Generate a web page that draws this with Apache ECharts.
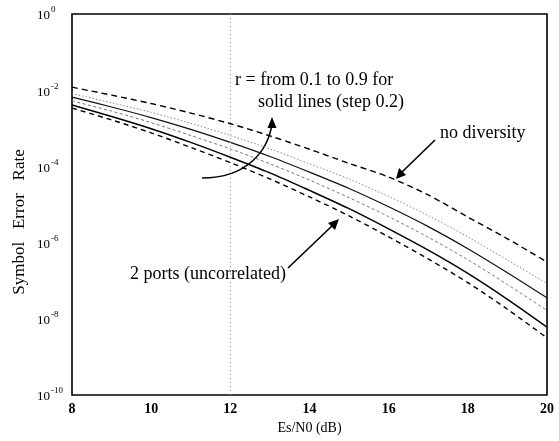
<!DOCTYPE html>
<html>
<head>
<meta charset="utf-8">
<script src="https://cdn.jsdelivr.net/npm/echarts@6/dist/echarts.min.js"></script>
<style>html,body{margin:0;padding:0;background:#fff}#c{width:559px;height:441px}</style>
</head>
<body>
<div id="c"></div>
<script>
const esn0 = [8, 9, 10, 11, 12, 13, 14, 15, 16, 17, 18, 19, 20];
const xTicks = [8, 10, 12, 14, 16, 18, 20];
const yTicks = [1, 1e-2, 1e-4, 1e-6, 1e-8, 1e-10];
const noDiversity = [1.20e-2, 7.41e-3, 4.47e-3, 2.51e-3, 1.32e-3, 6.31e-4, 2.82e-4, 1.20e-4, 5.25e-5, 1.78e-5, 4.68e-6, 1.26e-6, 3.09e-7];
const rLine1 = [8.13e-3, 4.68e-3, 2.63e-3, 1.35e-3, 6.46e-4, 2.88e-4, 1.17e-4, 4.68e-5, 1.62e-5, 5.13e-6, 1.41e-6, 3.47e-7, 8.51e-8];
const rLine2 = [6.61e-3, 3.63e-3, 1.91e-3, 9.33e-4, 4.27e-4, 1.82e-4, 7.08e-5, 2.63e-5, 8.71e-6, 2.63e-6, 6.92e-7, 1.62e-7, 3.55e-8];
const rLine3 = [5.25e-3, 2.82e-3, 1.41e-3, 6.46e-4, 2.88e-4, 1.17e-4, 4.37e-5, 1.51e-5, 4.79e-6, 1.38e-6, 3.55e-7, 7.94e-8, 1.66e-8];
const rLine4 = [4.07e-3, 2.04e-3, 9.77e-4, 4.27e-4, 1.74e-4, 6.76e-5, 2.34e-5, 7.76e-6, 2.29e-6, 6.31e-7, 1.55e-7, 3.24e-8, 6.03e-9];
const twoPorts = [3.39e-3, 1.66e-3, 7.59e-4, 3.16e-4, 1.26e-4, 4.68e-5, 1.58e-5, 5.01e-6, 1.41e-6, 3.72e-7, 8.91e-8, 1.78e-8, 3.16e-9];

const serif = '"Liberation Serif", "DejaVu Serif", serif';
const pair = arr => esn0.map((x, i) => [x, arr[i]]);

function mkSeries(name, arr, color, width, type) {
  return {
    name, type: 'line', data: pair(arr), smooth: 0.3, symbol: 'none',
    lineStyle: { color, width, type }, z: 3
  };
}

const chart = echarts.init(document.getElementById('c'), null, { renderer: 'canvas' });
chart.setOption({
  animation: false,
  backgroundColor: '#fff',
  grid: { left: 72, right: 12, top: 14, bottom: 46, containLabel: false, outerBoundsMode: 'none',
    show: true, borderColor: '#000', borderWidth: 1.6, backgroundColor: 'transparent' },
  xAxis: {
    type: 'value', min: 8, max: 20, interval: 2,
    name: 'Es/N0 (dB)', nameLocation: 'middle', nameGap: 20,
    nameTextStyle: { fontFamily: serif, fontSize: 14, color: '#000' },
    axisLine: { show: false }, axisTick: { show: false },
    axisLabel: { fontFamily: serif, fontSize: 14, fontWeight: 'bold', color: '#000', margin: 7,
      formatter: v => xTicks.includes(v) ? String(v) : '' },
    splitLine: { show: false }
  },
  yAxis: {
    type: 'log', logBase: 10, min: 1e-10, max: 1, interval: 2,
    axisLine: { show: false }, axisTick: { show: false },
    axisLabel: {
      margin: 35, color: '#000', align: 'left',
      formatter: v => {
        const e = Math.round(Math.log10(v));
        return '{b|10}{s|' + e + '}';
      },
      rich: {
        b: { fontFamily: serif, fontSize: 13, color: '#000', padding: [4, 0, 0, 0] },
        s: { fontFamily: serif, fontSize: 9, color: '#000', padding: [0, 0, 8, 1] }
      }
    },
    splitLine: { show: false }
  },
  series: [
    Object.assign(mkSeries('no diversity', noDiversity, '#000', 1.4, [6, 4]), {
      markLine: { silent: true, symbol: 'none', label: { show: false },
        lineStyle: { color: '#999', width: 1, type: [1, 3] }, data: [{ xAxis: 12 }] }
    }),
    mkSeries('r1', rLine1, '#8a8a8a', 1, [1.5, 2]),
    mkSeries('r2', rLine2, '#111', 1.2, 'solid'),
    mkSeries('r3', rLine3, '#777', 1, [3, 2.5]),
    mkSeries('r4', rLine4, '#000', 1.5, 'solid'),
    mkSeries('2 ports', twoPorts, '#000', 1.4, [5, 4])
  ],
  graphic: [
    { type: 'text', x: 20, y: 222, rotation: Math.PI / 2,
      style: { text: 'Symbol   Error   Rate', font: '17px ' + serif, fill: '#000', align: 'center', verticalAlign: 'middle' } },
    { type: 'text', x: 235, y: 80, style: { text: 'r = from 0.1 to 0.9 for', font: '18px ' + serif, fill: '#000', verticalAlign: 'middle' } },
    { type: 'text', x: 258, y: 102, style: { text: 'solid lines (step 0.2)', font: '18px ' + serif, fill: '#000', verticalAlign: 'middle' } },
    { type: 'text', x: 440, y: 133, style: { text: 'no diversity', font: '18px ' + serif, fill: '#000', verticalAlign: 'middle' } },
    { type: 'text', x: 130, y: 274, style: { text: '2 ports (uncorrelated)', font: '18px ' + serif, fill: '#000', verticalAlign: 'middle' } },
    { type: 'bezierCurve', shape: { x1: 202, y1: 178, cpx1: 248, cpy1: 178, cpx2: 268, cpy2: 150, x2: 272, y2: 124 },
      style: { stroke: '#000', lineWidth: 1.6, fill: null } },
    { type: 'polygon', shape: { points: [[272, 117], [267.5, 128], [276.5, 128]] }, style: { fill: '#000' } },
    { type: 'line', shape: { x1: 435, y1: 140, x2: 401, y2: 173 }, style: { stroke: '#000', lineWidth: 1.6 } },
    { type: 'polygon', shape: { points: [[396, 179], [399, 168], [406, 175]] }, style: { fill: '#000' } },
    { type: 'line', shape: { x1: 288, y1: 268, x2: 333, y2: 225 }, style: { stroke: '#000', lineWidth: 1.6 } },
    { type: 'polygon', shape: { points: [[339, 219], [328, 223], [335, 230]] }, style: { fill: '#000' } }
  ]
});
</script>
</body>
</html>
